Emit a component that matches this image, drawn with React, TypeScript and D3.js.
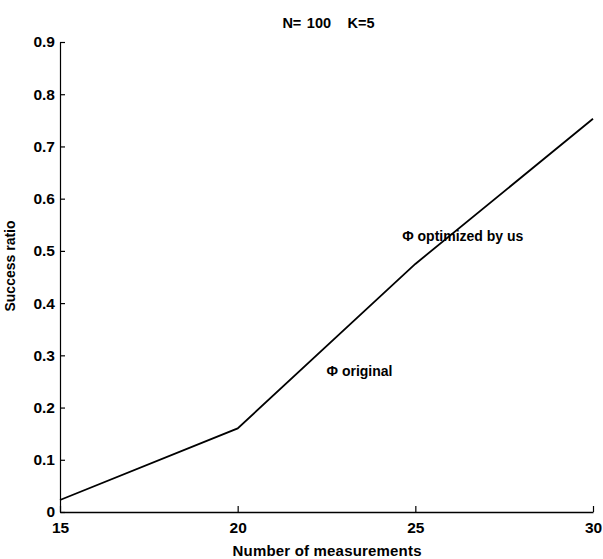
import React, { useEffect, useRef } from "react";
import * as d3 from "d3";

const measurements = [15, 20, 25, 30];
const successRatio = [0.023, 0.16, 0.475, 0.753];
const xTicks = [15, 20, 25, 30];
const yTicks = [0, 0.1, 0.2, 0.3, 0.4, 0.5, 0.6, 0.7, 0.8, 0.9];
const titleText = "N= 100   K=5";
const xLabel = "Number of measurements";
const yLabel = "Success ratio";
const annotations = [
  { text: "\u03A6 optimized by us", x: 24.63, y: 0.519 },
  { text: "\u03A6 original", x: 22.5, y: 0.26 },
];

const W = 603;
const H = 559;
const M = { left: 60, right: 10, top: 42, bottom: 47 };

export default function App() {
  const ref = useRef<SVGSVGElement>(null);
  useEffect(() => {
    const svg = d3.select(ref.current);
    svg.selectAll("*").remove();
    const x = d3.scaleLinear().domain([15, 30]).range([M.left, W - M.right]);
    const y = d3.scaleLinear().domain([0, 0.9]).range([H - M.bottom, M.top]);
    const font = "Arial, 'Liberation Sans', sans-serif";

    // axes
    const xAxis = d3.axisBottom(x).tickValues(xTicks).tickSize(-6).tickSizeOuter(0).tickFormat(d3.format("d"));
    const gx = svg.append("g").attr("transform", `translate(0,${H - M.bottom})`).call(xAxis);
    gx.select(".domain").attr("stroke", "#000").attr("stroke-width", 1.5);
    gx.selectAll(".tick line").attr("stroke", "#000").attr("stroke-width", 1.2);
    gx.selectAll(".tick text")
      .attr("y", 10)
      .attr("dy", "0.71em")
      .attr("fill", "#000")
      .style("font-family", font)
      .style("font-size", "15.5px")
      .style("font-weight", "bold");

    const yAxis = d3.axisLeft(y).tickValues(yTicks).tickSize(-5).tickSizeOuter(0).tickFormat((d: any) => (d === 0 ? "0" : d3.format(".1f")(d)));
    const gy = svg.append("g").attr("transform", `translate(${M.left},0)`).call(yAxis);
    gy.select(".domain").attr("stroke", "#000").attr("stroke-width", 1.2);
    gy.selectAll(".tick line").attr("stroke", "#000").attr("stroke-width", 1.2);
    gy.selectAll(".tick text")
      .attr("x", -5)
      .attr("fill", "#000")
      .style("font-family", font)
      .style("font-size", "15.5px")
      .style("font-weight", "bold");

    // line
    const data = measurements.map((m, i) => [m, successRatio[i]] as [number, number]);
    const line = d3.line<[number, number]>().x((d) => x(d[0])).y((d) => y(d[1]));
    svg.append("path").datum(data).attr("d", line).attr("fill", "none").attr("stroke", "#000").attr("stroke-width", 1.8);

    // title
    svg.append("text")
      .attr("x", 328.5)
      .attr("y", 28)
      .attr("text-anchor", "middle")
      .attr("xml:space", "preserve")
      .style("white-space", "pre")
      .style("font-family", font)
      .style("font-size", "14.5px")
      .style("font-weight", "bold")
      .style("word-spacing", "1.5px")
      .text(titleText);

    // x label
    svg.append("text")
      .attr("x", 327)
      .attr("y", 556)
      .attr("text-anchor", "middle")
      .style("font-family", font)
      .style("font-size", "15px")
      .style("font-weight", "bold")
      .attr("textLength", 189)
      .text(xLabel);

    // y label
    svg.append("text")
      .attr("transform", `translate(15,266) rotate(-90)`)
      .attr("text-anchor", "middle")
      .style("font-family", font)
      .style("font-size", "14px")
      .style("font-weight", "bold")
      .text(yLabel);

    // annotations
    annotations.forEach((a) => {
      svg.append("text")
        .attr("x", x(a.x))
        .attr("y", y(a.y))
        .style("font-family", font)
        .style("font-size", "14px")
        .style("font-weight", "bold")
        .text(a.text);
    });
  }, []);

  return (
    <svg
      ref={ref}
      width={W}
      height={H}
      style={{ position: "absolute", left: 0, top: 0, background: "#fff" }}
    />
  );
}
